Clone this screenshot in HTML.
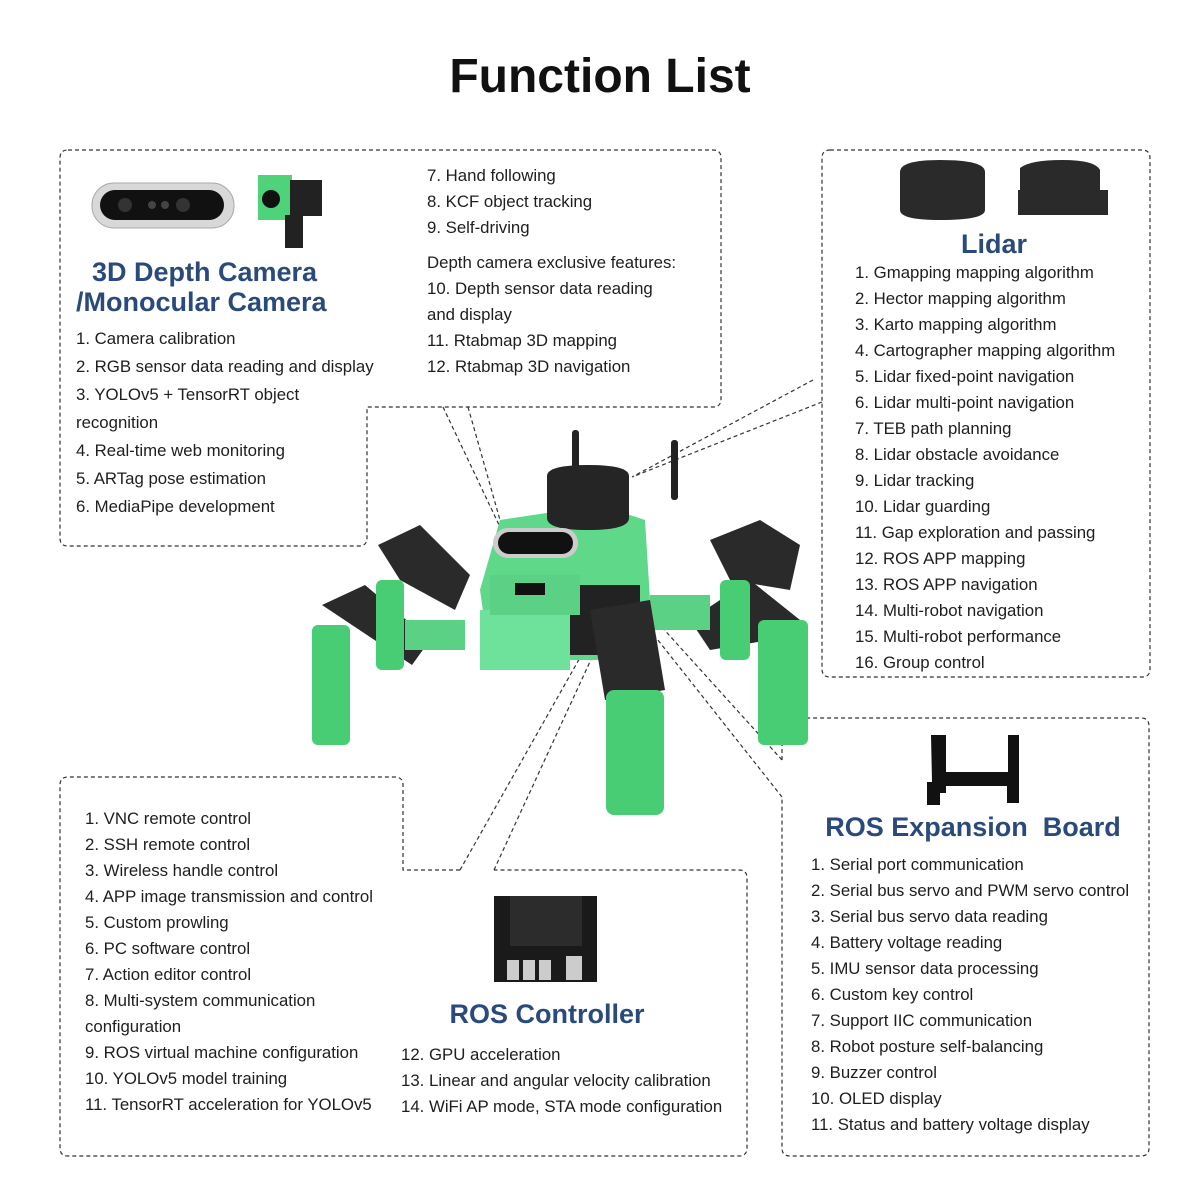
<!DOCTYPE html>
<html><head><meta charset="utf-8"><style>
body{margin:0;background:#fff;}
#w{position:relative;width:1200px;height:1200px;overflow:hidden;font-family:"Liberation Sans",sans-serif;color:#1e1e1e;}
.t{position:absolute;font-size:16.8px;white-space:nowrap;line-height:20px;}
.h{position:absolute;font-weight:bold;color:#2b4a7c;font-size:27px;white-space:nowrap;line-height:30px;}
svg{position:absolute;left:0;top:0;}
</style></head><body><div id="w">
<svg width="1200" height="1200" viewBox="0 0 1200 1200">
<g fill="none" stroke="#333" stroke-width="1.2" stroke-dasharray="4,3">
<path d="M68 150 H713 Q721 150 721 158 V399 Q721 407 713 407 H367 V538 Q367 546 359 546 H68 Q60 546 60 538 V158 Q60 150 68 150Z"/>
<path d="M830 150 H1142 Q1150 150 1150 158 V669 Q1150 677 1142 677 H830 Q822 677 822 669 V158 Q822 150 830 150Z"/>
<path d="M782 760 V726 Q782 718 790 718 H1141 Q1149 718 1149 726 V1148 Q1149 1156 1141 1156 H790 Q782 1156 782 1148 V797"/>
<path d="M460 870 H403 V785 Q403 777 395 777 H68 Q60 777 60 785 V1148 Q60 1156 68 1156 H739 Q747 1156 747 1148 V878 Q747 870 739 870 H494"/>
<path d="M443 407 L500 527 M468 407 L500 520"/>
<path d="M813 380 L632 477 M822 402 L632 477"/>
<path d="M460 870 L590 640 M494 870 L600 640"/>
<path d="M782 760 L660 625 M782 797 L650 630"/>
</g>
<rect x="92" y="183" width="142" height="45" rx="22" fill="#d8d8d8" stroke="#aaa"/>
<rect x="100" y="190" width="124" height="30" rx="15" fill="#111"/>
<circle cx="125" cy="205" r="7" fill="#333"/><circle cx="183" cy="205" r="7" fill="#333"/><circle cx="152" cy="205" r="4" fill="#444"/><circle cx="165" cy="205" r="4" fill="#444"/>
<rect x="258" y="175" width="34" height="45" fill="#4fd37a"/><rect x="290" y="180" width="32" height="36" fill="#222"/><circle cx="271" cy="199" r="9" fill="#111"/><rect x="285" y="215" width="18" height="33" fill="#222"/>
<path d="M900 172 Q900 160 940 160 Q985 160 985 172 V210 Q985 220 940 220 Q900 220 900 210Z" fill="#2a2a2a"/>
<path d="M1020 168 Q1030 160 1062 160 Q1095 160 1100 170 V190 H1108 V215 H1018 V190 H1020Z" fill="#2a2a2a"/>
<path d="M931 735 H946 V772 H1008 V735 H1019 V803 H1007 V786 H946 V793 H940 V805 H927 V782 H932Z" fill="#111"/>
<rect x="494" y="896" width="103" height="86" fill="#1a1a1a"/><rect x="510" y="896" width="72" height="50" fill="#2c2c2c"/>
<rect x="507" y="960" width="12" height="20" fill="#ccc"/><rect x="523" y="960" width="12" height="20" fill="#ccc"/><rect x="539" y="960" width="12" height="20" fill="#ccc"/><rect x="566" y="956" width="16" height="24" fill="#ccc"/>
<g>
<rect x="572" y="430" width="7" height="60" rx="3" fill="#222"/>
<rect x="671" y="440" width="7" height="60" rx="3" fill="#222"/>
<path d="M500 520 L600 505 L645 520 L650 600 L620 660 L490 660 L480 590Z" fill="#5fd88a"/>
<rect x="560" y="585" width="80" height="70" fill="#222"/>
<rect x="480" y="610" width="90" height="60" fill="#6ee29a"/>
<rect x="490" y="575" width="90" height="40" fill="#5ad185"/>
<rect x="515" y="583" width="30" height="12" fill="#111"/>
<path d="M547 476 Q547 465 588 465 Q629 465 629 476 V518 Q629 530 588 530 Q547 530 547 518Z" fill="#252525"/>
<rect x="493" y="528" width="85" height="30" rx="15" fill="#ccc"/><rect x="498" y="532" width="75" height="22" rx="11" fill="#111"/>
<path d="M378 545 L420 525 L470 575 L455 610 L400 580Z" fill="#2a2a2a"/>
<path d="M322 605 L365 585 L430 640 L412 665Z" fill="#2a2a2a"/>
<rect x="312" y="625" width="38" height="120" rx="6" fill="#48cc74"/>
<rect x="376" y="580" width="28" height="90" rx="6" fill="#48cc74"/>
<rect x="405" y="620" width="60" height="30" fill="#5ad185"/>
<path d="M710 540 L760 520 L800 545 L790 590 L730 580Z" fill="#2a2a2a"/>
<path d="M690 620 L750 580 L800 620 L770 640 L710 650Z" fill="#2a2a2a"/>
<rect x="758" y="620" width="50" height="125" rx="6" fill="#48cc74"/>
<rect x="720" y="580" width="30" height="80" rx="6" fill="#48cc74"/>
<rect x="650" y="595" width="60" height="35" fill="#5ad185"/>
<path d="M590 610 L650 600 L665 690 L605 700Z" fill="#2a2a2a"/>
<rect x="606" y="690" width="58" height="125" rx="8" fill="#48cc74"/>
</g>
</svg>
<div class="t" style="left:0;width:1200px;top:48px;text-align:center;font-size:48px;font-weight:bold;line-height:58px;color:#111">Function List</div>

<div class="h" style="left:92px;top:257px">3D Depth Camera</div>
<div class="h" style="left:76px;top:287px">/Monocular Camera</div>
<div class="t" style="left:76px;top:329px">1. Camera calibration</div>
<div class="t" style="left:76px;top:357px">2. RGB sensor data reading and display</div>
<div class="t" style="left:76px;top:385px">3. YOLOv5 + TensorRT object</div>
<div class="t" style="left:76px;top:413px">recognition</div>
<div class="t" style="left:76px;top:441px">4. Real-time web monitoring</div>
<div class="t" style="left:76px;top:469px">5. ARTag pose estimation</div>
<div class="t" style="left:76px;top:497px">6. MediaPipe development</div>

<div class="t" style="left:427px;top:166px">7. Hand following</div>
<div class="t" style="left:427px;top:192px">8. KCF object tracking</div>
<div class="t" style="left:427px;top:218px">9. Self-driving</div>
<div class="t" style="left:427px;top:253px">Depth camera exclusive features:</div>
<div class="t" style="left:427px;top:279px">10. Depth sensor data reading</div>
<div class="t" style="left:427px;top:305px">and display</div>
<div class="t" style="left:427px;top:331px">11. Rtabmap 3D mapping</div>
<div class="t" style="left:427px;top:357px">12. Rtabmap 3D navigation</div>

<div class="h" style="left:822px;width:344px;text-align:center;top:229px">Lidar</div>
<div class="t" style="left:855px;top:263px">1. Gmapping mapping algorithm</div>
<div class="t" style="left:855px;top:289px">2. Hector mapping algorithm</div>
<div class="t" style="left:855px;top:315px">3. Karto mapping algorithm</div>
<div class="t" style="left:855px;top:341px">4. Cartographer mapping algorithm</div>
<div class="t" style="left:855px;top:367px">5. Lidar fixed-point navigation</div>
<div class="t" style="left:855px;top:393px">6. Lidar multi-point navigation</div>
<div class="t" style="left:855px;top:419px">7. TEB path planning</div>
<div class="t" style="left:855px;top:445px">8. Lidar obstacle avoidance</div>
<div class="t" style="left:855px;top:471px">9. Lidar tracking</div>
<div class="t" style="left:855px;top:497px">10. Lidar guarding</div>
<div class="t" style="left:855px;top:523px">11. Gap exploration and passing</div>
<div class="t" style="left:855px;top:549px">12. ROS APP mapping</div>
<div class="t" style="left:855px;top:575px">13. ROS APP navigation</div>
<div class="t" style="left:855px;top:601px">14. Multi-robot navigation</div>
<div class="t" style="left:855px;top:627px">15. Multi-robot performance</div>
<div class="t" style="left:855px;top:653px">16. Group control</div>

<div class="h" style="left:782px;width:382px;text-align:center;top:812px">ROS Expansion&nbsp; Board</div>
<div class="t" style="left:811px;top:855px">1. Serial port communication</div>
<div class="t" style="left:811px;top:881px">2. Serial bus servo and PWM servo control</div>
<div class="t" style="left:811px;top:907px">3. Serial bus servo data reading</div>
<div class="t" style="left:811px;top:933px">4. Battery voltage reading</div>
<div class="t" style="left:811px;top:959px">5. IMU sensor data processing</div>
<div class="t" style="left:811px;top:985px">6. Custom key control</div>
<div class="t" style="left:811px;top:1011px">7. Support IIC communication</div>
<div class="t" style="left:811px;top:1037px">8. Robot posture self-balancing</div>
<div class="t" style="left:811px;top:1063px">9. Buzzer control</div>
<div class="t" style="left:811px;top:1089px">10. OLED display</div>
<div class="t" style="left:811px;top:1115px">11. Status and battery voltage display</div>

<div class="t" style="left:85px;top:809px">1. VNC remote control</div>
<div class="t" style="left:85px;top:835px">2. SSH remote control</div>
<div class="t" style="left:85px;top:861px">3. Wireless handle control</div>
<div class="t" style="left:85px;top:887px">4. APP image transmission and control</div>
<div class="t" style="left:85px;top:913px">5. Custom prowling</div>
<div class="t" style="left:85px;top:939px">6. PC software control</div>
<div class="t" style="left:85px;top:965px">7. Action editor control</div>
<div class="t" style="left:85px;top:991px">8. Multi-system communication</div>
<div class="t" style="left:85px;top:1017px">configuration</div>
<div class="t" style="left:85px;top:1043px">9. ROS virtual machine configuration</div>
<div class="t" style="left:85px;top:1069px">10. YOLOv5 model training</div>
<div class="t" style="left:85px;top:1095px">11. TensorRT acceleration for YOLOv5</div>

<div class="h" style="left:400px;width:294px;text-align:center;top:999px">ROS Controller</div>
<div class="t" style="left:401px;top:1045px">12. GPU acceleration</div>
<div class="t" style="left:401px;top:1071px">13. Linear and angular velocity calibration</div>
<div class="t" style="left:401px;top:1097px">14. WiFi AP mode, STA mode configuration</div>
</div></body></html>
